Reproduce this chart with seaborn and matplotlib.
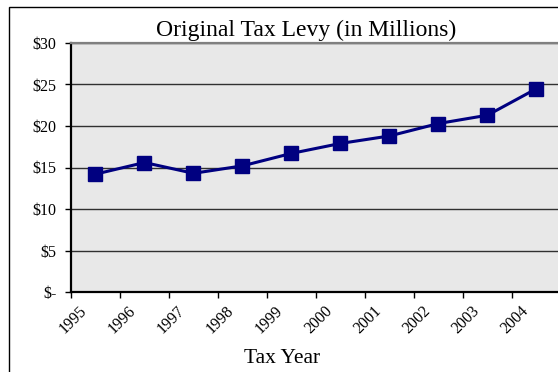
import matplotlib
matplotlib.use("Agg")
import matplotlib.pyplot as plt
import matplotlib.transforms as mtransforms
from matplotlib.patches import Rectangle
import seaborn as sns
import pandas as pd

# ---- data ----
years = [1995, 1996, 1997, 1998, 1999, 2000, 2001, 2002, 2003, 2004]
levy = [14.2, 15.6, 14.3, 15.2, 16.7, 17.9, 18.8, 20.3, 21.3, 24.5]
ytick_values = [0, 5, 10, 15, 20, 25, 30]
ytick_labels = ["$-", "$5", "$10", "$15", "$20", "$25", "$30"]
title = "Original Tax Levy (in Millions)"
xlabel = "Tax Year"

sns.set_style("white")
plt.rcParams["font.family"] = ["Liberation Serif", "DejaVu Serif"]
for k in ["text.color", "axes.labelcolor", "xtick.color", "ytick.color"]:
    plt.rcParams[k] = "black"

df = pd.DataFrame({"year": years, "levy": levy})

W, H = 558, 372
fig = plt.figure(figsize=(W / 100, H / 100), dpi=100)
ax = fig.add_axes([71 / W, 80 / H, 490 / W, 249 / H])
ax.set_facecolor("#E8E8E8")

sns.lineplot(data=df, x="year", y="levy", ax=ax, color="#000080",
             linewidth=2.2, marker="s", markersize=10.5,
             markeredgecolor="#000080", markeredgewidth=1, zorder=3)

ax.set_xlim(1994.5, 2004.5)
ax.set_ylim(0, 30)

# gridlines
ax.set_yticks(ytick_values)
ax.set_yticklabels(ytick_labels, fontsize=11.5)
ax.yaxis.grid(True, color="#303030", linewidth=1.0)
ax.xaxis.grid(False)
ax.set_axisbelow(True)
ax.tick_params(axis="y", direction="out", length=4.5, width=1, color="black",
               pad=6, left=True)

# x ticks: labels at category centres, tick marks at boundaries
ax.set_xticks(years)
ax.set_xticklabels([str(y) for y in years], fontsize=11.5, rotation=45,
                   ha="right")
ax.tick_params(axis="x", which="major", length=0, pad=8)
ax.set_xticks([y - 0.5 for y in years], minor=True)
ax.tick_params(axis="x", which="minor", direction="out", length=4,
               width=1, color="black", bottom=True)
offset = mtransforms.ScaledTranslation(-5 / 100, 0, fig.dpi_scale_trans)
for lab in ax.get_xticklabels():
    lab.set_transform(lab.get_transform() + offset)

ax.set_xlabel("")
ax.set_ylabel("")

for side in ["left", "bottom"]:
    ax.spines[side].set_color("black")
    ax.spines[side].set_linewidth(1.6)
ax.spines["top"].set_color("#808080")
ax.spines["top"].set_linewidth(1.6)
ax.spines["right"].set_color("#808080")
ax.spines["right"].set_linewidth(1.6)

fig.text(306 / W, 1 - 36 / H, title, ha="center", va="baseline",
         fontsize=17)
fig.text(282 / W, 1 - 363 / H, xlabel, ha="center", va="baseline",
         fontsize=15.5)

# chart border
fig.patches.append(Rectangle((9 / W, -0.1), 1.2, 1.1 - 7 / H,
                             transform=fig.transFigure, fill=False,
                             edgecolor="black", linewidth=1.0))

fig.savefig("out.png", dpi=100)
